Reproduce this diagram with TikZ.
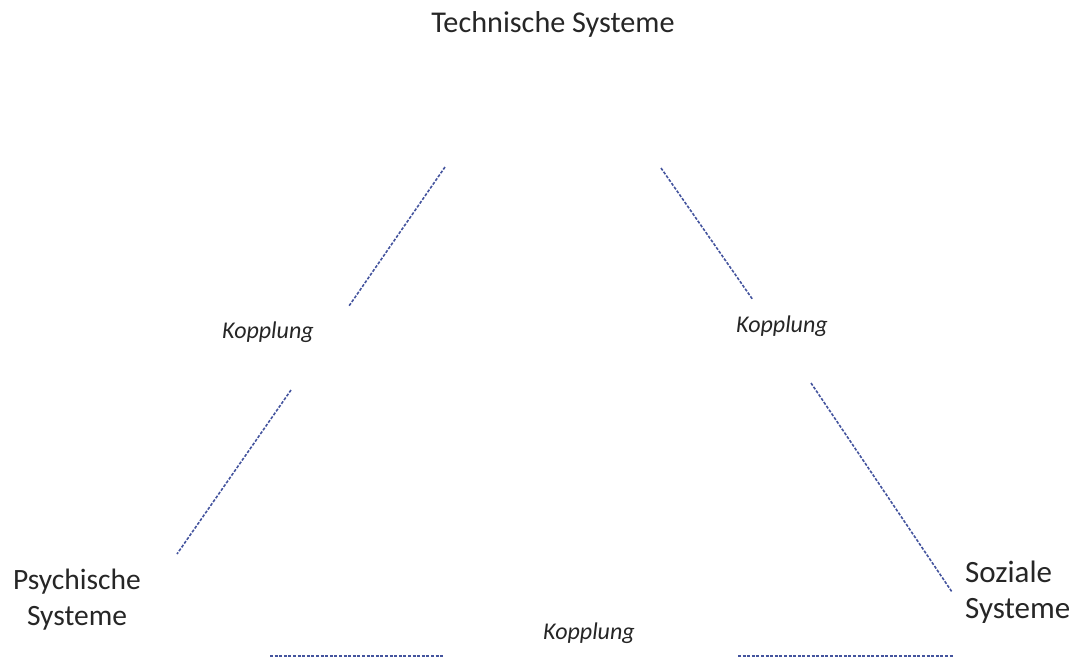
\documentclass[tikz,border=0pt]{standalone}
\usepackage{fontspec}
\setmainfont{Carlito}
\definecolor{linkblue}{RGB}{68,84,158}
\definecolor{txt}{RGB}{38,38,38}
\begin{document}
\begin{tikzpicture}[x=1pt,y=-1pt,
  sys/.style={inner sep=0pt,text=txt,font=\fontsize{29.5}{36}\selectfont},
  sysr/.style={inner sep=0pt,text=txt,font=\fontsize{31}{37}\selectfont},
  koppl/.style={inner sep=0pt,text=txt,font=\fontsize{24}{29}\selectfont\itshape},
  link/.style={draw=linkblue,line width=1.6pt,dash pattern=on 3pt off 1.6pt}]
\useasboundingbox (0,0) rectangle (1072,657);
\clip (0,0) rectangle (1072,657);
\node[sys,anchor=base,font=\fontsize{30.2}{36}\selectfont] (tech) at (553,32) {Technische Systeme};
\node[sys,anchor=base] (psy1) at (77,589) {Psychische};
\node[sys,anchor=base] (psy2) at (77,625) {Systeme};
\node[sysr,anchor=base west] (soz1) at (965,582) {Soziale};
\node[sysr,anchor=base west] (soz2) at (965,618) {Systeme};
\node[koppl,anchor=base] (kl) at (268,338) {Kopplung};
\node[koppl,anchor=base] (kr) at (782,332) {Kopplung};
\node[koppl,anchor=base] (kb) at (589,639) {Kopplung};
\coordinate (a1) at (445,167); \coordinate (a2) at (349,306);
\coordinate (a3) at (291,390); \coordinate (a4) at (177,554);
\coordinate (b1) at (661,168); \coordinate (b2) at (753,300);
\coordinate (b3) at (811,383); \coordinate (b4) at (952,592);
\coordinate (c1) at (270,656); \coordinate (c2) at (443,656);
\coordinate (c3) at (738,656); \coordinate (c4) at (953,656);
\draw[link] (a1) -- (a2);
\draw[link] (a3) -- (a4);
\draw[link] (b1) -- (b2);
\draw[link] (b3) -- (b4);
\draw[link] (c1) -- (c2);
\draw[link] (c3) -- (c4);
\end{tikzpicture}
\end{document}
